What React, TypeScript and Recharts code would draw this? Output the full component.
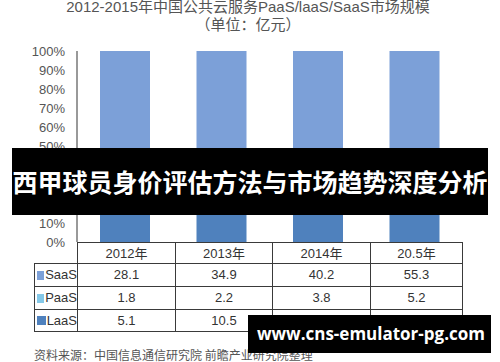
import { Bar, BarChart, YAxis, XAxis } from 'recharts';

const years = ['2012年', '2013年', '2014年', '20.5年'];
const saas = [28.1, 34.9, 40.2, 55.3];
const paas = [1.8, 2.2, 3.8, 5.2];
const laas = [5.1, 10.5, 26.2, 42];
const yTicks = [0, 0.1, 0.2, 0.3, 0.4, 0.5, 0.6, 0.7, 0.8, 0.9, 1];

const SAAS_COLOR = '#7ca0d8';
const PAAS_COLOR = '#84c8e8';
const LAAS_COLOR = '#4f81bd';
const FONT = '"Liberation Sans", Arial, "Noto Sans CJK SC", sans-serif';

const data = years.map((year, i) => ({
  year,
  saas: saas[i],
  paas: paas[i],
  laas: laas[i],
}));

const rows = [
  { name: 'SaaS', color: SAAS_COLOR, values: saas },
  { name: 'PaaS', color: PAAS_COLOR, values: paas },
  { name: 'LaaS', color: LAAS_COLOR, values: laas },
];

const colEdges = [77, 175, 272, 370, 463];
const border = '1px solid #3a3a3a';

function DataTable() {
  return (
    <div style={{ position: 'absolute', left: 0, top: 0 }}>
      {/* header row */}
      {years.map((y, i) => (
        <div
          key={y}
          style={{
            position: 'absolute',
            left: colEdges[i],
            top: 242,
            width: colEdges[i + 1] - colEdges[i],
            height: 21,
            borderLeft: border,
            borderRight: i === years.length - 1 ? border : undefined,
            borderTop: border,
            boxSizing: 'border-box',
            textAlign: 'center',
            lineHeight: '21px',
            fontSize: 13,
            color: '#333',
          }}
        >
          {y}
        </div>
      ))}
      {rows.map((r, ri) => {
        const top = 263 + ri * 23;
        return (
          <div key={r.name}>
            <div
              style={{
                position: 'absolute',
                left: 34,
                top,
                width: 43,
                height: 23,
                border,
                borderRight: 'none',
                borderBottom: ri === rows.length - 1 ? border : 'none',
                boxSizing: 'border-box',
                fontSize: 13,
                color: '#333',
                lineHeight: '22px',
                display: 'flex',
                alignItems: 'center',
              }}
            >
              <span
                style={{
                  display: 'inline-block',
                  width: 9,
                  height: 9,
                  background: r.color,
                  marginLeft: 2,
                  marginRight: 1,
                }}
              />
              {r.name}
            </div>
            {r.values.map((v, i) => (
              <div
                key={i}
                style={{
                  position: 'absolute',
                  left: colEdges[i],
                  top,
                  width: colEdges[i + 1] - colEdges[i],
                  height: 23,
                  borderLeft: border,
                  borderTop: border,
                  borderRight: i === r.values.length - 1 ? border : undefined,
                  borderBottom: ri === rows.length - 1 ? border : undefined,
                  boxSizing: 'border-box',
                  textAlign: 'center',
                  lineHeight: '22px',
                  fontSize: 13,
                  color: '#333',
                }}
              >
                {v}
              </div>
            ))}
          </div>
        );
      })}
    </div>
  );
}

export default function App() {
  return (
    <div
      style={{
        position: 'absolute',
        left: 0,
        top: 0,
        width: 500,
        height: 362,
        background: '#fff',
        overflow: 'hidden',
        fontFamily: FONT,
      }}
    >
      <div
        style={{
          position: 'absolute',
          top: -3,
          left: 0,
          width: 496,
          textAlign: 'center',
          fontSize: 15,
          color: '#555',
          lineHeight: '20px',
          whiteSpace: 'nowrap',
        }}
      >
        2012-2015年中国公共云服务PaaS/laaS/SaaS市场规模
      </div>
      <div
        style={{
          position: 'absolute',
          top: 15,
          left: 0,
          width: 496,
          textAlign: 'center',
          fontSize: 15,
          color: '#555',
          lineHeight: '20px',
        }}
      >
        （单位：亿元）
      </div>

      <div style={{ position: 'absolute', left: 0, top: 0 }}>
        <BarChart
          width={500}
          height={262}
          data={data}
          stackOffset="expand"
          barSize={50}
          margin={{ top: 51, right: 37, bottom: 20, left: 12 }}
        >
          <XAxis dataKey="year" hide />
          <YAxis
            width={65}
            ticks={yTicks}
            domain={[0, 1]}
            interval={0}
            tickLine={false}
            axisLine={{ stroke: '#555', strokeWidth: 1.2 }}
            tickFormatter={(v: number) => `${Math.round(v * 100)}%`}
            tick={{ fontSize: 13, fill: '#555', fontFamily: FONT, dx: -4 }}
          />
          <Bar dataKey="laas" stackId="a" fill={LAAS_COLOR} isAnimationActive={false} />
          <Bar dataKey="paas" stackId="a" fill={PAAS_COLOR} isAnimationActive={false} />
          <Bar dataKey="saas" stackId="a" fill={SAAS_COLOR} isAnimationActive={false} />
        </BarChart>
      </div>

      <DataTable />

      <div
        style={{
          position: 'absolute',
          left: 34,
          top: 347,
          fontSize: 12,
          color: '#555',
          fontFamily: '"Noto Sans CJK SC", sans-serif',
          lineHeight: '15px',
          whiteSpace: 'nowrap',
        }}
      >
        资料来源：中国信息通信研究院 前瞻产业研究院整理
      </div>

      {/* headline overlay */}
      <div style={{ position: 'absolute', left: 12, top: 148, width: 476, height: 67, background: '#000' }} />
      <div
        style={{
          position: 'absolute',
          left: 34,
          top: 148,
          width: 430,
          height: 67,
          background: 'rgba(0,0,0,0.6)',
        }}
      />
      <div
        style={{
          position: 'absolute',
          left: 0,
          top: 148,
          width: 500,
          height: 67,
          lineHeight: '67px',
          textAlign: 'center',
          color: '#fff',
          fontWeight: 'bold',
          fontSize: 25,
          fontFamily: '"Noto Sans CJK SC", sans-serif',
          whiteSpace: 'nowrap',
        }}
      >
        西甲球员身价评估方法与市场趋势深度分析
      </div>

      {/* url overlay */}
      <div style={{ position: 'absolute', left: 248, top: 315, width: 243, height: 38, background: '#000' }} />
      <div
        style={{
          position: 'absolute',
          left: 248,
          top: 315,
          width: 216,
          height: 38,
          background: 'rgba(0,0,0,0.6)',
        }}
      />
      <div
        style={{
          position: 'absolute',
          left: 257,
          top: 315,
          height: 38,
          lineHeight: '38px',
          color: '#fff',
          fontWeight: 'bold',
          fontSize: 17,
          fontFamily: '"Open Sans", "DejaVu Sans", sans-serif',
          whiteSpace: 'nowrap',
        }}
      >
        www.cns-emulator-pg.com
      </div>
    </div>
  );
}
